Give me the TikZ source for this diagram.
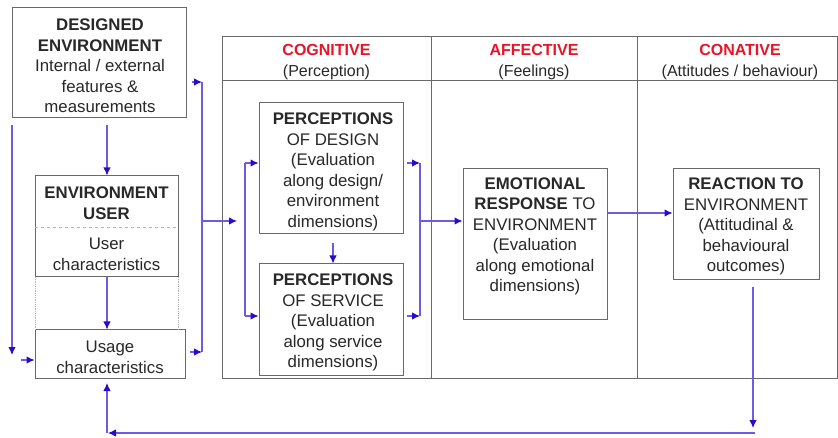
\documentclass[tikz,border=0pt]{standalone}
\usepackage{fontspec}
\setmainfont{Liberation Sans}
\usetikzlibrary{arrows.meta}
\definecolor{arrc}{RGB}{110,90,232}
\definecolor{arrh}{RGB}{45,10,200}
\definecolor{hdr}{RGB}{232,20,40}
\definecolor{txt}{RGB}{40,40,40}
\definecolor{bord}{RGB}{105,105,105}
\begin{document}
\begin{tikzpicture}[x=1pt,y=-1pt,
  box/.style={draw=bord, line width=1pt, inner sep=0pt},
  lbl/.style={align=center, text=txt, font=\fontsize{16.8}{20.5}\selectfont, inner sep=0pt},
  hd/.style={text=hdr, font=\fontsize{16}{20}\selectfont\bfseries, inner sep=0pt},
  sub/.style={text=txt, font=\fontsize{16}{20}\selectfont, inner sep=0pt},
  arr/.style={draw=arrc, line width=1.1pt, -{Latex[length=8pt,width=7.5pt,color=arrh]}},
  ln/.style={draw=arrc, line width=1.1pt},
  sep/.style={draw=black!30, line width=0.8pt, densely dotted}
]
\useasboundingbox (0,0) rectangle (838,438);
\fill[white] (0,0) rectangle (838,438);

% table
\node[box, minimum width=615pt, minimum height=341pt] (tab) at (529.5,207.5) {};
\coordinate (hL) at (222,81);
\coordinate (hR) at (837,81);
\draw[draw=bord, line width=1pt] (hL) -- (hR);
\coordinate (c1t) at (431,37);
\coordinate (c1b) at (431,378);
\coordinate (c2t) at (637,37);
\coordinate (c2b) at (637,378);
\draw[draw=bord, line width=1pt] (c1t) -- (c1b);
\draw[draw=bord, line width=1pt] (c2t) -- (c2b);

\node[hd] (cogH) at (326.5,50) {COGNITIVE};
\node[sub] (cogS) at (326.5,72) {(Perception)};
\node[hd] (affH) at (534,50) {AFFECTIVE};
\node[sub] (affS) at (534,72) {(Feelings)};
\node[hd] (conH) at (740,50) {CONATIVE};
\node[sub] (conS) at (740,72) {(Attitudes / behaviour)};

% boxes
\node[box, minimum width=174pt, minimum height=110pt] (de) at (99,63) {};
\node[box, minimum width=143pt, minimum height=101pt] (eu) at (106.5,226.5) {};
\node[box, minimum width=150pt, minimum height=48pt] (us) at (110,354) {};
\node[box, minimum width=144pt, minimum height=131pt] (pd) at (331,168.5) {};
\node[box, minimum width=144pt, minimum height=111pt] (ps) at (331,319.5) {};
\node[box, minimum width=144pt, minimum height=151pt] (em) at (535,244.5) {};
\node[box, minimum width=146pt, minimum height=111pt] (re) at (746,224.5) {};

% separators in user box
\coordinate (s1) at (35,227);
\coordinate (s2) at (178,227);
\draw[sep, dashed] (s1) -- (s2);
\coordinate (d1) at (35,277);
\coordinate (d2) at (35,330);
\coordinate (d3) at (178,277);
\coordinate (d4) at (178,330);
\draw[sep] (d1) -- (d2);
\draw[sep] (d3) -- (d4);

% texts
\node[lbl] (deT) at (100,66) {\textbf{DESIGNED}\\\textbf{ENVIRONMENT}\\Internal / external\\features \&\\measurements};
\node[lbl] (euT1) at (106.5,203) {\textbf{ENVIRONMENT}\\\textbf{USER}};
\node[lbl] (euT2) at (106.5,254.5) {User\\characteristics};
\node[lbl] (usT) at (110,357.5) {Usage\\characteristics};
\node[lbl] (pdT) at (333,172) {\textbf{PERCEPTIONS}\\OF DESIGN\\(Evaluation\\along design/\\environment\\dimensions)};
\node[lbl] (psT) at (333,322.5) {\textbf{PERCEPTIONS}\\OF SERVICE\\(Evaluation\\along service\\dimensions)};
\node[lbl] (emT) at (535,236.5) {\textbf{EMOTIONAL}\\\textbf{RESPONSE} TO\\ENVIRONMENT\\(Evaluation\\along emotional\\dimensions)};
\node[lbl] (reT) at (746,226.5) {\textbf{REACTION TO}\\ENVIRONMENT\\(Attitudinal \&\\behavioural\\outcomes)};

% connectors left part
\coordinate (deS) at (107,125);
\draw[arr] (deS) -- (deS |- eu.north);
\draw[arr] (eu.south -| deS) -- (deS |- us.north);
\coordinate (L1) at (12,125);
\coordinate (L2) at (12,355);
\draw[arr] (L1) -- (L2);
\coordinate (L3) at (21,360);
\draw[arr] (L3) -- (L3 -| us.west);

\coordinate (R1) at (192,82);
\coordinate (R2) at (202,82);
\coordinate (R3) at (190,352);
\coordinate (R4) at (202,352);
\coordinate (R5) at (202,221);
\coordinate (R6) at (237,221);
\draw[ln] (R2) -- (R4);
\draw[arr] (R1) -- (R2);
\draw[arr] (R3) -- (R4);
\draw[arr] (R5) -- (R6);

% cognitive brackets
\coordinate (B1) at (245,163);
\coordinate (B2) at (245,316);
\draw[ln] (B1) -- (B2);
\draw[arr] (B1) -- (B1 -| pd.west);
\draw[arr] (B2) -- (B2 -| ps.west);
\coordinate (M1) at (333,243);
\draw[arr] (M1) -- (M1 |- ps.north);
\coordinate (C1) at (407,163);
\coordinate (C2) at (420,163);
\coordinate (C3) at (407,316);
\coordinate (C4) at (420,316);
\draw[ln] (C2) -- (C4);
\draw[arr] (C1) -- (C2);
\draw[arr] (C3) -- (C4);
\coordinate (C5) at (420,221);
\draw[arr] (C5) -- (C5 -| em.west);

% emotional -> reaction
\coordinate (E1) at (607,213);
\draw[arr] (E1) -- (E1 -| re.west);

% feedback loop
\coordinate (F1) at (753,287);
\coordinate (F2) at (753,428);
\draw[arr] (F1) -- (F2);
\coordinate (F3) at (755,433);
\coordinate (F4) at (108,433);
\draw[arr] (F3) -- (F4);
\coordinate (F5) at (107,433);
\coordinate (F6) at (107,383);
\draw[arr] (F5) -- (F6);
\end{tikzpicture}
\end{document}
